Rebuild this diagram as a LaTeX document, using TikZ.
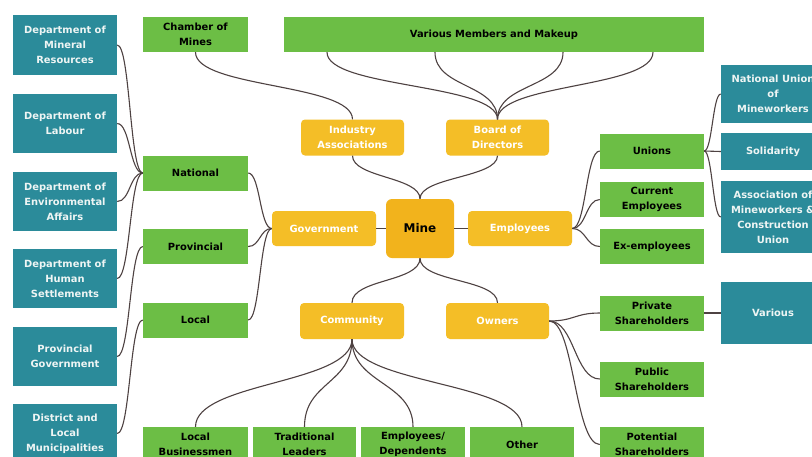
\documentclass[tikz,border=0pt]{standalone}
\usepackage{fontspec}
\setmainfont{DejaVu Sans}
\definecolor{tealbox}{HTML}{2B8B9A}
\definecolor{greenbox}{HTML}{6CBE45}
\definecolor{yellowbox}{HTML}{F4BE27}
\definecolor{minebox}{HTML}{F2B31C}
\definecolor{linkcol}{HTML}{4E4242}
\definecolor{lighttext}{HTML}{EEF5F4}
\begin{document}
\begin{tikzpicture}[x=1pt,y=-1pt,
  base/.style={inner sep=0pt, align=center, font=\fontsize{9.9}{15}\selectfont\bfseries},
  tealnode/.style={base, fill=tealbox, text=lighttext, minimum width=104pt},
  greennode/.style={base, fill=greenbox, text=black, minimum width=104pt, minimum height=35pt},
  yellownode/.style={base, fill=yellowbox, text=white, rounded corners=4pt, minimum width=103pt, minimum height=36pt},
  link/.style={draw=linkcol, line width=1.1pt}
]
\useasboundingbox (0,0) rectangle (812,456);
\clip (0,0) rectangle (812,456);
\fill[white] (0,0) rectangle (812,456);

% left teal column
\node[tealnode, minimum height=60pt] (dmr) at (65,45) {Department of\\Mineral\\Resources};
\node[tealnode, minimum height=59pt] (dl) at (65,123.5) {Department of\\Labour};
\node[tealnode, minimum height=59pt] (dea) at (65,201.5) {Department of\\Environmental\\Affairs};
\node[tealnode, minimum height=59pt] (dhs) at (65,278.5) {Department of\\Human\\Settlements};
\node[tealnode, minimum height=59pt] (pg) at (65,356.5) {Provincial\\Government};
\node[tealnode, minimum height=59pt] (dlm) at (65,433.5) {District and\\Local\\Municipalities};

% left green column
\node[greennode, minimum width=105pt] (com) at (195.5,34.5) {Chamber of\\Mines};
\node[greennode, minimum width=105pt] (nat) at (195.5,173) {National};
\node[greennode, minimum width=105pt] (prov) at (195.5,246.5) {Provincial};
\node[greennode, minimum width=105pt] (loc) at (195.5,320) {Local};

% bottom row
\node[greennode, minimum width=105pt] (lb) at (195.5,444.5) {Local\\Businessmen};
\node[greennode, minimum width=103pt] (tl) at (304.5,444.5) {Traditional\\Leaders};
\node[greennode] (ed) at (413,444.5) {Employees/\\Dependents};
\node[greennode] (oth) at (522,444.5) {Other};

% top bar
\node[greennode, minimum width=420pt] (vm) at (494,34.5) {Various Members and Makeup};

% yellow nodes
\node[yellownode] (ia) at (352.5,137.5) {Industry\\Associations};
\node[yellownode] (bod) at (497.5,137.5) {Board of\\Directors};
\node[yellownode, fill=minebox, text=black, minimum width=68pt, minimum height=59pt, rounded corners=6pt, font=\fontsize{12}{14}\selectfont\bfseries] (mine) at (420,228.5) {Mine};
\node[yellownode, minimum width=104pt, minimum height=35pt] (gov) at (324,228.5) {Government};
\node[yellownode, minimum width=104pt, minimum height=35pt] (emp) at (520,228.5) {Employees};
\node[yellownode, minimum width=104pt] (comm) at (352,321) {Community};
\node[yellownode] (own) at (497.5,321) {Owners};

% right green column
\node[greennode] (uni) at (652,151) {Unions};
\node[greennode] (ce) at (652,199.5) {Current\\Employees};
\node[greennode] (ex) at (652,246.5) {Ex-employees};
\node[greennode] (ps) at (652,313) {Private\\Shareholders};
\node[greennode] (pub) at (652,379) {Public\\Shareholders};
\node[greennode] (pot) at (652,444.5) {Potential\\Shareholders};

% right teal column
\node[tealnode, minimum height=58pt] (num) at (773,94) {National Union\\of\\Mineworkers};
\node[tealnode, minimum height=37pt] (sol) at (773,151.5) {Solidarity};
\node[tealnode, minimum height=72pt] (amcu) at (773,217) {Association of\\Mineworkers \&\\Construction\\Union};
\node[tealnode, minimum height=62pt] (var) at (773,313) {Various};

% anchor points on the top bar
\coordinate (vm1) at ([xshift=-167pt]vm.south);
\coordinate (vm2) at ([xshift=-59pt]vm.south);
\coordinate (vm3) at ([xshift=69pt]vm.south);
\coordinate (vm4) at ([xshift=159pt]vm.south);

% connectors: mine hub
\draw[link] (mine.north) .. controls +(0,-22) and +(0,22) .. (ia.south);
\draw[link] (mine.north) .. controls +(0,-22) and +(0,22) .. (bod.south);
\draw[link] (mine.south) .. controls +(0,24) and +(0,-24) .. (comm.north);
\draw[link] (mine.south) .. controls +(0,24) and +(0,-24) .. (own.north);
\draw[link] (mine.west) -- (gov.east);
\draw[link] (mine.east) -- (emp.west);

% industry associations and board
\draw[link] (com.south) .. controls +(0,36) and +(0,-36) .. (ia.north);
\draw[link] (vm1) .. controls +(0,36) and +(0,-36) .. (bod.north);
\draw[link] (vm2) .. controls +(0,36) and +(0,-36) .. (bod.north);
\draw[link] (vm3) .. controls +(0,36) and +(0,-36) .. (bod.north);
\draw[link] (vm4) .. controls +(0,36) and +(0,-36) .. (bod.north);

% government
\draw[link] (gov.west) .. controls +(-12,0) and +(12,0) .. (nat.east);
\draw[link] (gov.west) .. controls +(-12,0) and +(12,0) .. (prov.east);
\draw[link] (gov.west) .. controls +(-12,0) and +(12,0) .. (loc.east);
\draw[link] (nat.west) .. controls +(-13,0) and +(13,0) .. (dmr.east);
\draw[link] (nat.west) .. controls +(-13,0) and +(13,0) .. (dl.east);
\draw[link] (nat.west) .. controls +(-13,0) and +(13,0) .. (dea.east);
\draw[link] (nat.west) .. controls +(-13,0) and +(13,0) .. (dhs.east);
\draw[link] (prov.west) .. controls +(-13,0) and +(13,0) .. (pg.east);
\draw[link] (loc.west) .. controls +(-13,0) and +(13,0) .. (dlm.east);

% employees
\draw[link] (emp.east) .. controls +(14,0) and +(-14,0) .. (uni.west);
\draw[link] (emp.east) .. controls +(14,0) and +(-14,0) .. (ce.west);
\draw[link] (emp.east) .. controls +(14,0) and +(-14,0) .. (ex.west);
\draw[link] (uni.east) .. controls +(8,0) and +(-8,0) .. (num.west);
\draw[link] (uni.east) -- (sol.west);
\draw[link] (uni.east) .. controls +(8,0) and +(-8,0) .. (amcu.west);

% owners
\draw[link] (own.east) .. controls +(25,0) and +(-25,0) .. (ps.west);
\draw[link] (own.east) .. controls +(25,0) and +(-25,0) .. (pub.west);
\draw[link] (own.east) .. controls +(25,0) and +(-25,0) .. (pot.west);
\draw[link] (ps.east) -- (var.west);

% community
\draw[link] (comm.south) .. controls +(0,45) and +(0,-45) .. (lb.north);
\draw[link] (comm.south) .. controls +(0,45) and +(0,-45) .. (tl.north);
\draw[link] (comm.south) .. controls +(0,45) and +(0,-45) .. (ed.north);
\draw[link] (comm.south) .. controls +(0,45) and +(0,-45) .. (oth.north);
\end{tikzpicture}
\end{document}
